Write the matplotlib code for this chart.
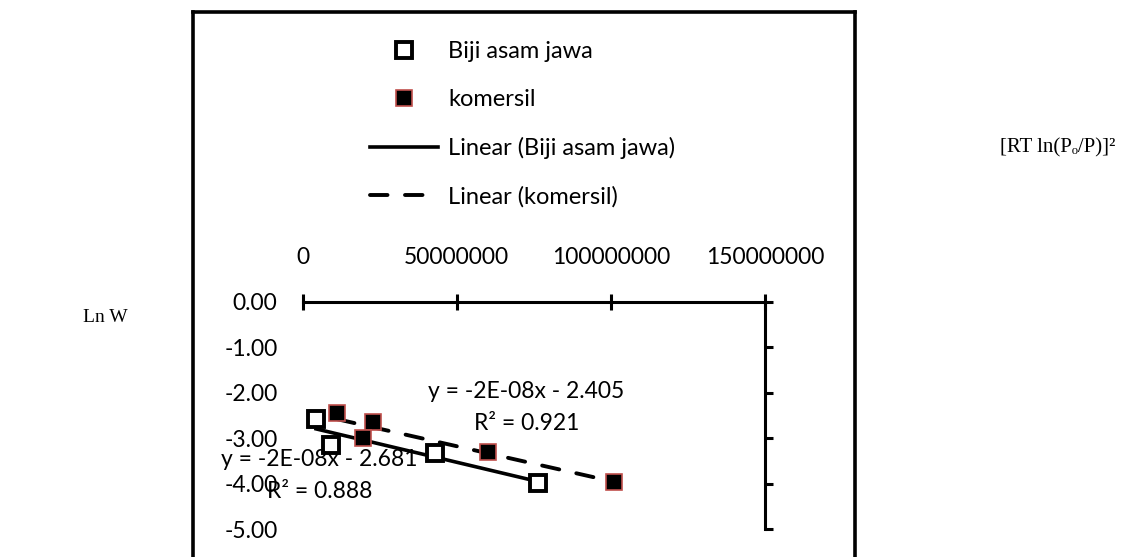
import numpy as np
import matplotlib.pyplot as plt
from matplotlib.lines import Line2D

plt.rcParams['axes.unicode_minus'] = False
plt.rcParams['font.family'] = ['Lato', 'DejaVu Sans']

# data (x in units of 1e6)
biji_x = np.array([4.4, 9.2, 43.0, 76.5]) * 1e6
biji_y = np.array([-2.58, -3.15, -3.32, -3.99])
kom_x = np.array([11.3, 23.0, 19.7, 60.3, 101.1]) * 1e6
kom_y = np.array([-2.45, -2.64, -2.99, -3.30, -3.97])

x_ticks = [0, 50000000, 100000000, 150000000]
y_ticks = [0, -1, -2, -3, -4, -5]
eq_biji = ["y = -2E-08x - 2.681", "R\u00b2 = 0.888"]
eq_kom = ["y = -2E-08x - 2.405", "R\u00b2 = 0.921"]

W, H = 1139, 557
fig = plt.figure(figsize=(W / 100, H / 100), dpi=100)
fs = 16.5

# outer chart frame
frame = fig.add_axes([193 / W, -0.3, (855 - 193) / W, 1.3 - 12 / H])
frame.set_xticks([])
frame.set_yticks([])
frame.patch.set_alpha(0)
frame.spines['bottom'].set_visible(False)
for s in ['top', 'left', 'right']:
    frame.spines[s].set_linewidth(2.6)

ax = fig.add_axes([302.5 / W, 1 - 529 / H, (765 - 302.5) / W, (529 - 302) / H])
ax.patch.set_alpha(0)
ax.set_xlim(0, 150000000)
ax.set_ylim(-5, 0)
ax.spines['left'].set_visible(False)
ax.spines['bottom'].set_visible(False)
ax.spines['top'].set_linewidth(2.2)
ax.spines['right'].set_linewidth(2.2)

ax.xaxis.tick_top()
ax.set_xticks(x_ticks)
ax.set_xticklabels([str(v) for v in x_ticks])
ax.tick_params(axis='x', direction='inout', length=11.5, width=2.2, pad=19, labelsize=fs)
ax.set_yticks(y_ticks)
ax.set_yticklabels(['%.2f' % v for v in y_ticks])
ax.tick_params(axis='y', direction='out', length=6, width=2.2, left=False, right=True,
               labelleft=True, labelright=False, pad=12, labelsize=fs)

# trendlines
pb = np.polyfit(biji_x, biji_y, 1)
pk = np.polyfit(kom_x, kom_y, 1)
xb = np.array([biji_x.min(), biji_x.max()])
xk = np.array([kom_x.min(), kom_x.max()])
ax.plot(xb, np.polyval(pb, xb), color='black', lw=2.6, zorder=2, clip_on=False)
ax.plot(xk, np.polyval(pk, xk), color='black', lw=2.8, ls=(0, (4.5, 4.5)),
        dash_capstyle='round', zorder=2, clip_on=False)

ax.plot(biji_x, biji_y, ls='none', marker='s', ms=11.5, mfc='white', mec='black', mew=2.8,
        zorder=3, clip_on=False)
ax.plot(kom_x, kom_y, ls='none', marker='s', ms=12, mfc='black', mec='#C0504D', mew=1.2,
        zorder=3, clip_on=False)

fig.text(428 / W, 1 - 392 / H, eq_kom[0], fontsize=fs, va='center', ha='left')
fig.text(474 / W, 1 - 424 / H, eq_kom[1], fontsize=fs, va='center', ha='left')
fig.text(221 / W, 1 - 460 / H, eq_biji[0], fontsize=fs, va='center', ha='left')
fig.text(267 / W, 1 - 492 / H, eq_biji[1], fontsize=fs, va='center', ha='left')

handles = [
    Line2D([], [], ls='none', marker='s', ms=11, mfc='white', mec='black', mew=2.8),
    Line2D([], [], ls='none', marker='s', ms=11, mfc='black', mec='#C0504D', mew=1.2),
    Line2D([], [], color='black', lw=2.6),
    Line2D([], [], color='black', lw=2.8, ls=(0, (4.5, 4.5)), dash_capstyle='round'),
]
labels = ['Biji asam jawa', 'komersil', 'Linear (Biji asam jawa)', 'Linear (komersil)']
fig.legend(handles, labels, loc='upper left', bbox_to_anchor=(370 / W, 1 - 41 / H),
           frameon=False, fontsize=17, handlelength=2.9, handletextpad=0.4,
           labelspacing=1.14, borderpad=0, borderaxespad=0)

fig.text(128 / W, 1 - 318 / H, 'Ln W', family=['Liberation Serif', 'DejaVu Serif'],
         fontsize=14, ha='right', va='center')
fig.text(1000 / W, 1 - 148 / H, '[RT ln(P\u2092/P)]\u00b2', family=['Liberation Serif', 'DejaVu Serif'],
         fontsize=15, ha='left', va='center')

fig.savefig('out.png', dpi=100)
